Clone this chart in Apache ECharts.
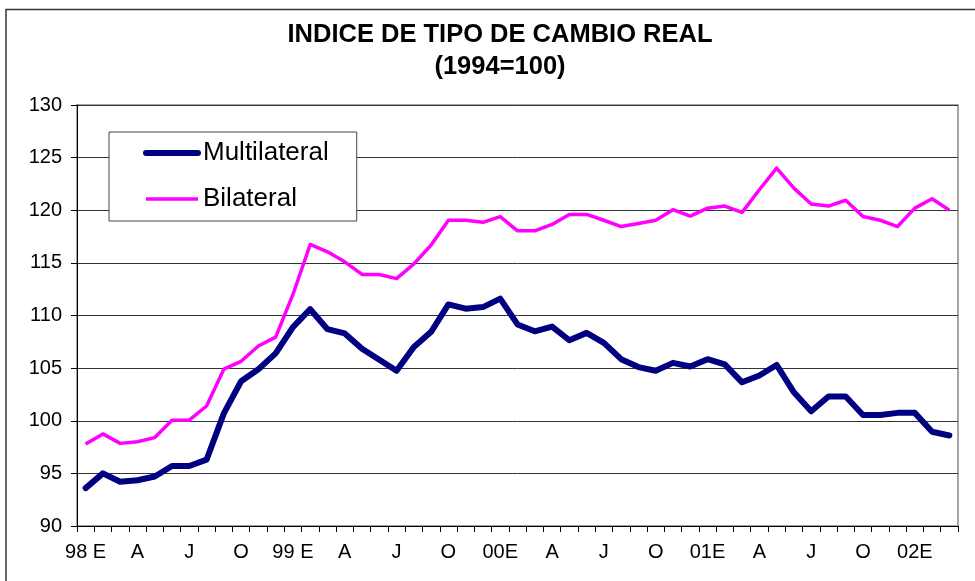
<!DOCTYPE html>
<html>
<head>
<meta charset="utf-8">
<title>Indice de tipo de cambio real</title>
<script src="https://cdn.jsdelivr.net/npm/echarts@6/dist/echarts.min.js"></script>
<style>
  html, body { margin: 0; padding: 0; background: #fff; }
  #chart { width: 975px; height: 581px; }
</style>
</head>
<body>
<div id="chart"></div>
<script>
// meses (ene 1998 - mar 2002)
var months = [
  '1998-01', '1998-02', '1998-03', '1998-04', '1998-05', '1998-06', '1998-07', '1998-08', '1998-09', '1998-10', '1998-11', '1998-12',
  '1999-01', '1999-02', '1999-03', '1999-04', '1999-05', '1999-06', '1999-07', '1999-08', '1999-09', '1999-10', '1999-11', '1999-12',
  '2000-01', '2000-02', '2000-03', '2000-04', '2000-05', '2000-06', '2000-07', '2000-08', '2000-09', '2000-10', '2000-11', '2000-12',
  '2001-01', '2001-02', '2001-03', '2001-04', '2001-05', '2001-06', '2001-07', '2001-08', '2001-09', '2001-10', '2001-11', '2001-12',
  '2002-01', '2002-02', '2002-03'
];

// etiquetas del eje x (una cada trimestre)
var tickLabels = [
  '98 E', '', '', 'A', '', '', 'J', '', '', 'O', '', '',
  '99 E', '', '', 'A', '', '', 'J', '', '', 'O', '', '',
  '00E', '', '', 'A', '', '', 'J', '', '', 'O', '', '',
  '01E', '', '', 'A', '', '', 'J', '', '', 'O', '', '',
  '02E', '', ''
];

var multilateral = [
  93.6, 95.0, 94.2, 94.35, 94.7, 95.7, 95.7, 96.3, 100.7, 103.75, 104.9, 106.4,
  108.9, 110.6, 108.7, 108.3, 106.85, 105.8, 104.75, 107.0, 108.45, 111.05, 110.65, 110.8,
  111.6, 109.15, 108.5, 108.95, 107.65, 108.35, 107.4, 105.85, 105.1, 104.75, 105.5, 105.15,
  105.85, 105.35, 103.65, 104.3, 105.3, 102.7, 100.9, 102.3, 102.3, 100.55, 100.55, 100.75,
  100.75, 98.95, 98.6
];

var bilateral = [
  97.8, 98.75, 97.85, 98.0, 98.4, 100.05, 100.05, 101.4, 104.9, 105.65, 107.1, 107.95,
  112.0, 116.75, 116.05, 115.1, 113.9, 113.9, 113.5, 114.9, 116.7, 119.05, 119.05, 118.85,
  119.4, 118.05, 118.05, 118.65, 119.6, 119.6, 119.05, 118.45, 118.75, 119.05, 120.05, 119.45,
  120.2, 120.4, 119.8, 121.95, 124.0, 122.1, 120.6, 120.4, 120.95, 119.4, 119.05, 118.45,
  120.2, 121.1, 120.0
];

var titleLines = ['INDICE DE TIPO DE CAMBIO REAL', '(1994=100)'];

var myChart = echarts.init(document.getElementById('chart'));
var font = '"Liberation Sans", Arial, sans-serif';

var option = {
  animation: false,
  backgroundColor: '#fff',
  graphic: [
    {
      // marco exterior del grafico
      type: 'rect',
      shape: { x: 6, y: 9.5, width: 1000, height: 700 },
      style: { fill: 'none', stroke: '#333', lineWidth: 1.5 },
      silent: true
    },
    {
      type: 'text',
      style: {
        text: titleLines[0], x: 500, y: 35,
        fontSize: 25.5, fontWeight: 'bold', fontFamily: font,
        fill: '#000', align: 'center', verticalAlign: 'middle'
      }
    },
    {
      type: 'text',
      style: {
        text: titleLines[1], x: 500, y: 67,
        fontSize: 25.5, fontWeight: 'bold', fontFamily: font,
        fill: '#000', align: 'center', verticalAlign: 'middle'
      }
    }
  ],
  legend: {
    orient: 'vertical',
    left: 109,
    top: 132,
    backgroundColor: '#fff',
    borderColor: '#444',
    borderWidth: 1,
    borderRadius: 0,
    padding: [8, 28, 9, 34],
    itemWidth: 52,
    itemHeight: 24,
    itemGap: 20,
    itemStyle: { opacity: 0 },
    textStyle: { fontSize: 26, color: '#000', fontFamily: font },
    data: [
      { name: 'Multilateral', lineStyle: { width: 6 } },
      { name: 'Bilateral', lineStyle: { width: 3.5 } }
    ]
  },
  grid: {
    left: 77,
    right: 17,
    top: 105,
    bottom: 55,
    show: true,
    backgroundColor: '#fff',
    borderColor: '#888',
    borderWidth: 1.5
  },
  xAxis: {
    type: 'category',
    data: months,
    boundaryGap: true,
    axisLine: { lineStyle: { color: '#000', width: 1 } },
    axisTick: { show: true, interval: 0, length: 6, lineStyle: { color: '#000' } },
    axisLabel: {
      interval: 0,
      margin: 16,
      fontSize: 20,
      color: '#000',
      fontFamily: font,
      formatter: function (value, index) {
        return tickLabels[index];
      }
    },
    splitLine: { show: false }
  },
  yAxis: {
    type: 'value',
    min: 90,
    max: 130,
    interval: 5,
    axisLine: { show: true, lineStyle: { color: '#000', width: 1 } },
    axisTick: { show: true, length: 6, lineStyle: { color: '#000' } },
    axisLabel: { margin: 15, fontSize: 20, color: '#000', fontFamily: font },
    splitLine: { show: true, lineStyle: { color: '#333', width: 1 } }
  },
  series: [
    {
      name: 'Bilateral',
      type: 'line',
      data: bilateral,
      symbol: 'none',
      itemStyle: { color: '#ff00ff' },
      lineStyle: { color: '#ff00ff', width: 3.5, join: 'round' },
      z: 3
    },
    {
      name: 'Multilateral',
      type: 'line',
      data: multilateral,
      symbol: 'none',
      itemStyle: { color: '#000080' },
      lineStyle: { color: '#000080', width: 6, join: 'round', cap: 'round' },
      z: 4
    }
  ]
};

myChart.setOption(option);
</script>
</body>
</html>
